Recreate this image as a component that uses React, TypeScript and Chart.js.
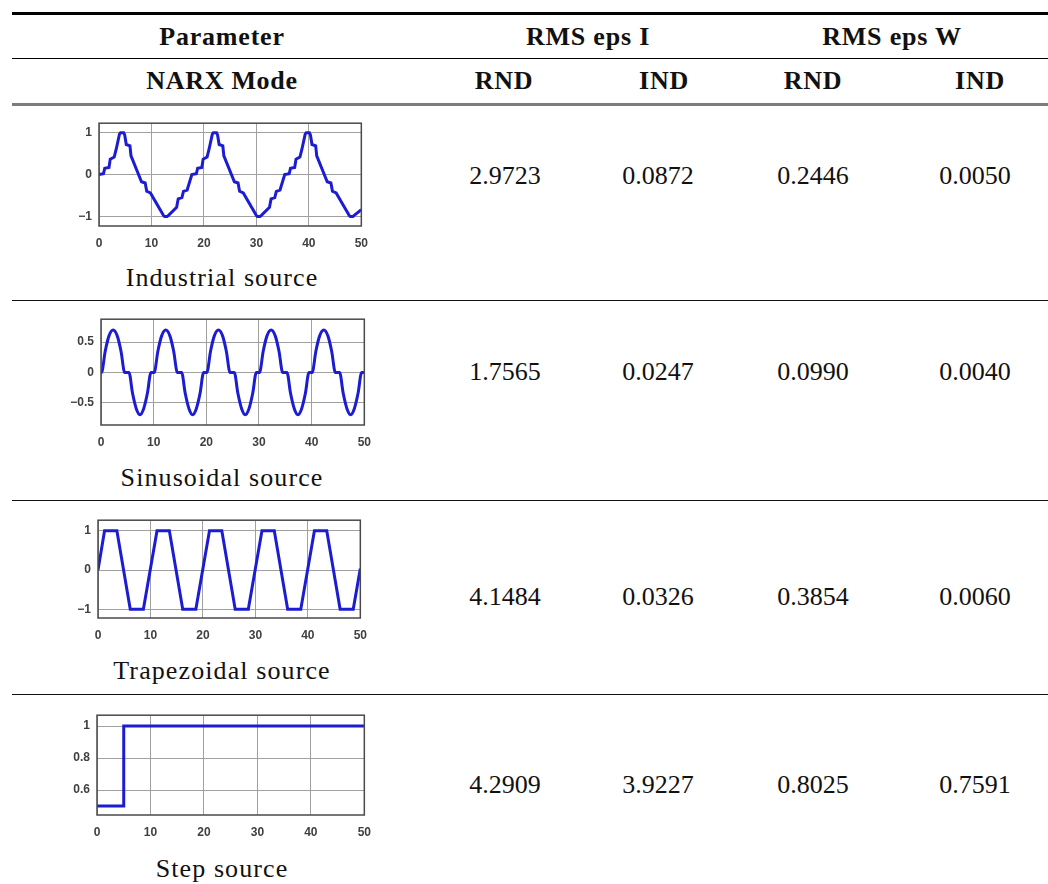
import React, { useEffect, useRef } from 'react';
import { Chart, registerables } from 'chart.js';
Chart.register(...registerables);

// ---------- DATA ----------
const X_TICKS = [0, 10, 20, 30, 40, 50];

const industrialX = [
  0, 0.85, 1.1, 1.9, 2.15, 2.9, 3.3, 3.9, 4.1, 4.7, 4.9, 5.2, 5.9, 6.1, 8.1, 8.8, 9.1, 9.8, 12.3, 12.5, 13.0, 13.3, 14.8, 15.1, 15.8, 16.1, 16.8,
  17.7, 18.55, 18.8, 19.6, 19.85, 20.6, 21.0, 21.6, 21.8, 22.4, 22.6, 22.9, 23.6, 23.8, 25.8, 26.5, 26.8, 27.5, 30.0, 30.2, 30.7, 31.0, 32.5, 32.8, 33.5, 33.8, 34.5,
  35.4, 36.25, 36.5, 37.3, 37.55, 38.3, 38.7, 39.3, 39.5, 40.1, 40.3, 40.6, 41.3, 41.5, 43.5, 44.2, 44.5, 45.2, 47.7, 47.9, 48.4, 48.7, 50,
];
const industrialY = [
  0, 0.02, 0.15, 0.17, 0.37, 0.42, 0.62, 0.97, 1.0, 1.0, 0.95, 0.72, 0.69, 0.45, -0.17, -0.2, -0.4, -0.44, -0.98, -1.0, -1.0, -0.97, -0.78, -0.58, -0.55, -0.4, -0.37,
  0, 0.02, 0.15, 0.17, 0.37, 0.42, 0.62, 0.97, 1.0, 1.0, 0.95, 0.72, 0.69, 0.45, -0.17, -0.2, -0.4, -0.44, -0.98, -1.0, -1.0, -0.97, -0.78, -0.58, -0.55, -0.4, -0.37,
  0, 0.02, 0.15, 0.17, 0.37, 0.42, 0.62, 0.97, 1.0, 1.0, 0.95, 0.72, 0.69, 0.45, -0.17, -0.2, -0.4, -0.44, -0.98, -1.0, -1.0, -0.97, -0.84,
];

const sinusoidalX = [
  0,
  0.1, 0.8, 1.5, 2.3, 3.1, 3.8, 4.5, 5.3, 6.0, 6.7, 7.4, 8.1, 8.8, 9.5,
  10.1, 10.8, 11.5, 12.3, 13.1, 13.8, 14.5, 15.3, 16.0, 16.7, 17.4, 18.1, 18.8, 19.5,
  20.1, 20.8, 21.5, 22.3, 23.1, 23.8, 24.5, 25.3, 26.0, 26.7, 27.4, 28.1, 28.8, 29.5,
  30.1, 30.8, 31.5, 32.3, 33.1, 33.8, 34.5, 35.3, 36.0, 36.7, 37.4, 38.1, 38.8, 39.5,
  40.1, 40.8, 41.5, 42.3, 43.1, 43.8, 44.5, 45.3, 46.0, 46.7, 47.4, 48.1, 48.8, 49.5,
  50,
];
const sinusoidalY = [
  0,
  0, 0.35, 0.6, 0.7, 0.6, 0.35, 0, 0, -0.35, -0.6, -0.7, -0.6, -0.35, 0,
  0, 0.35, 0.6, 0.7, 0.6, 0.35, 0, 0, -0.35, -0.6, -0.7, -0.6, -0.35, 0,
  0, 0.35, 0.6, 0.7, 0.6, 0.35, 0, 0, -0.35, -0.6, -0.7, -0.6, -0.35, 0,
  0, 0.35, 0.6, 0.7, 0.6, 0.35, 0, 0, -0.35, -0.6, -0.7, -0.6, -0.35, 0,
  0, 0.35, 0.6, 0.7, 0.6, 0.35, 0, 0, -0.35, -0.6, -0.7, -0.6, -0.35, 0,
  0,
];

const trapezoidalX = [0, 1.25, 3.6, 6.15, 8.65, 11.25, 13.6, 16.15, 18.65, 21.25, 23.6, 26.15, 28.65, 31.25, 33.6, 36.15, 38.65, 41.25, 43.6, 46.15, 48.65, 50];
const trapezoidalY = [0, 1, 1, -1, -1, 1, 1, -1, -1, 1, 1, -1, -1, 1, 1, -1, -1, 1, 1, -1, -1, 0.04];

const stepX = [0, 5, 5, 50];
const stepY = [0.5, 0.5, 1, 1];

const industrialYTicks = [-1, 0, 1];
const sinusoidalYTicks = [-0.5, 0, 0.5];
const trapezoidalYTicks = [-1, 0, 1];
const stepYTicks = [0.6, 0.8, 1];

const sourceNames = ['Industrial source', 'Sinusoidal source', 'Trapezoidal source', 'Step source'];
const rndI = ['2.9723', '1.7565', '4.1484', '4.2909'];
const indI = ['0.0872', '0.0247', '0.0326', '3.9227'];
const rndW = ['0.2446', '0.0990', '0.3854', '0.8025'];
const indW = ['0.0050', '0.0040', '0.0060', '0.7591'];

// ---------- LAYOUT / STYLE ----------
const SERIF = '"Liberation Serif", "Times New Roman", serif';
const LINE_COLOR = '#1c1cd2';
const GRID_COLOR = '#a0a0a0';
const BOX_COLOR = '#4a4a4a';
const TICK_FONT = { family: '"Liberation Sans", Arial, sans-serif', size: 12, weight: 'bold' as const };
const TICK_COLOR = '#404040';
const AX_W = 34;
const AX_H = 30;
const PAD_T = 10;
const PAD_R = 14;

const chartDefs = [
  { xs: industrialX, ys: industrialY, yTicks: industrialYTicks, yMin: -1.23, yMax: 1.23, smooth: false, l: 99, t: 119, r: 364, b: 226 },
  { xs: sinusoidalX, ys: sinusoidalY, yTicks: sinusoidalYTicks, yMin: -0.87, yMax: 0.88, smooth: true, l: 101, t: 315, r: 367, b: 425 },
  { xs: trapezoidalX, ys: trapezoidalY, yTicks: trapezoidalYTicks, yMin: -1.22, yMax: 1.27, smooth: false, l: 98, t: 516, r: 363, b: 618 },
  { xs: stepX, ys: stepY, yTicks: stepYTicks, yMin: 0.444, yMax: 1.068, smooth: false, l: 97, t: 711, r: 367, b: 815 },
];

const captionY = [278, 477.5, 671, 869];
const valueY = [176, 372, 597, 785];
const valueX = [505, 658, 813, 975];

const fmt = (v: number) => (v < 0 ? '\u2212' + String(Math.abs(v)) : String(v));

const boxPlugin = {
  id: 'boxPlugin',
  afterDatasetsDraw(chart: any) {
    const { ctx, chartArea } = chart;
    ctx.save();
    ctx.strokeStyle = BOX_COLOR;
    ctx.lineWidth = 1.5;
    ctx.strokeRect(chartArea.left, chartArea.top, chartArea.right - chartArea.left, chartArea.bottom - chartArea.top);
    ctx.restore();
  },
};

function MiniChart({ def }: { def: typeof chartDefs[number] }) {
  const ref = useRef<HTMLCanvasElement>(null);
  const w = def.r - def.l + AX_W + PAD_R;
  const h = def.b - def.t + PAD_T + AX_H;
  useEffect(() => {
    const chart = new Chart(ref.current as HTMLCanvasElement, {
      type: 'line',
      data: {
        datasets: [
          {
            data: def.xs.map((x, i) => ({ x, y: def.ys[i] })),
            borderColor: LINE_COLOR,
            borderWidth: 3,
            pointRadius: 0,
            tension: 0,
            cubicInterpolationMode: def.smooth ? 'monotone' : 'default',
            fill: false,
          } as any,
        ],
      },
      options: {
        animation: false,
        responsive: false,
        devicePixelRatio: 1,
        layout: { padding: { top: PAD_T, right: PAD_R, left: 0, bottom: 0 } },
        plugins: { legend: { display: false }, tooltip: { enabled: false } },
        scales: {
          x: {
            type: 'linear',
            min: 0,
            max: 50,
            afterBuildTicks: (s: any) => {
              s.ticks = X_TICKS.map((v) => ({ value: v }));
            },
            afterFit: (s: any) => {
              s.height = AX_H;
            },
            grid: { color: GRID_COLOR, drawTicks: false, lineWidth: 1 },
            border: { display: false },
            ticks: { padding: 10, font: TICK_FONT, color: TICK_COLOR, maxRotation: 0, autoSkip: false, callback: (v: any) => fmt(Number(v)) },
          },
          y: {
            type: 'linear',
            min: def.yMin,
            max: def.yMax,
            afterBuildTicks: (s: any) => {
              s.ticks = def.yTicks.map((v) => ({ value: v }));
            },
            afterFit: (s: any) => {
              s.width = AX_W;
            },
            grid: { color: GRID_COLOR, drawTicks: false, lineWidth: 1 },
            border: { display: false },
            ticks: { padding: 7, font: TICK_FONT, color: TICK_COLOR, autoSkip: false, callback: (v: any) => fmt(Number(v)) },
          },
        },
      } as any,
      plugins: [boxPlugin],
    });
    return () => chart.destroy();
  }, []);
  return (
    <canvas
      ref={ref}
      width={w}
      height={h}
      style={{ position: 'absolute', left: def.l - AX_W, top: def.t - PAD_T, width: w, height: h }}
    />
  );
}

function Txt({ x, y, children, bold, spacing }: { x: number; y: number; children: React.ReactNode; bold?: boolean; spacing?: number }) {
  return (
    <div
      style={{
        position: 'absolute',
        left: x,
        top: y,
        transform: 'translate(-50%, -50%)',
        fontFamily: SERIF,
        fontSize: 26,
        lineHeight: '26px',
        fontWeight: bold ? 'bold' : 'normal',
        letterSpacing: spacing ?? 0,
        whiteSpace: 'nowrap',
        color: '#111',
      }}
    >
      {children}
    </div>
  );
}

function HLine({ y, h, color }: { y: number; h: number; color: string }) {
  return <div style={{ position: 'absolute', left: 12, right: 0, top: y, height: h, background: color }} />;
}

export default function App() {
  return (
    <div style={{ position: 'absolute', left: 0, top: 0, width: 1048, height: 884, background: '#fff', overflow: 'hidden' }}>
      <HLine y={12} h={2.5} color="#000" />
      <HLine y={58} h={1} color="#000" />
      <HLine y={103} h={2.5} color="#7c7c7c" />
      <HLine y={300} h={1.2} color="#111" />
      <HLine y={500} h={1.2} color="#111" />
      <HLine y={694} h={1.2} color="#111" />

      <Txt x={222} y={37} bold spacing={0.8}>Parameter</Txt>
      <Txt x={588} y={37} bold spacing={0.8}>RMS eps I</Txt>
      <Txt x={892} y={37} bold spacing={0.8}>RMS eps W</Txt>
      <Txt x={222} y={81} bold spacing={0.7}>NARX Mode</Txt>
      <Txt x={504} y={81} bold spacing={0.7}>RND</Txt>
      <Txt x={664} y={81} bold spacing={0.7}>IND</Txt>
      <Txt x={813} y={81} bold spacing={0.7}>RND</Txt>
      <Txt x={980} y={81} bold spacing={0.7}>IND</Txt>

      {chartDefs.map((d, i) => (
        <MiniChart key={i} def={d} />
      ))}
      {sourceNames.map((n, i) => (
        <Txt key={'c' + i} x={222} y={captionY[i]} spacing={1.1}>{n}</Txt>
      ))}
      {[rndI, indI, rndW, indW].map((col, ci) =>
        col.map((v, ri) => (
          <Txt key={'v' + ci + '-' + ri} x={valueX[ci]} y={valueY[ri]}>{v}</Txt>
        ))
      )}
    </div>
  );
}
